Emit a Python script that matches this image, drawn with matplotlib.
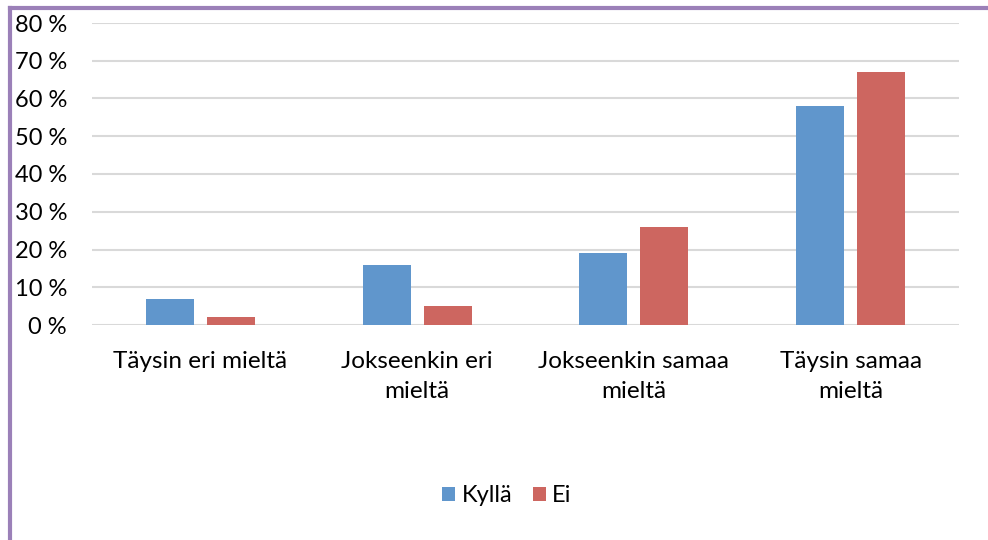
import numpy as np
import matplotlib.pyplot as plt
from matplotlib.lines import Line2D
from matplotlib.ticker import FuncFormatter

categories = ["Täysin eri mieltä", "Jokseenkin eri\nmieltä",
              "Jokseenkin samaa\nmieltä", "Täysin samaa\nmieltä"]
kylla = [7, 16, 19, 58]
ei = [2, 5, 26, 67]
series_names = ["Kyllä", "Ei"]

blue = "#6096CC"
red = "#CD6660"

plt.rcParams['font.family'] = ['Lato', 'DejaVu Sans']

fig = plt.figure(figsize=(9.88, 5.4), dpi=100)
ax = fig.add_axes([92 / 988, (540 - 325) / 540, (959 - 92) / 988, (325 - 23) / 540])

x = np.arange(len(categories))
w = 0.222
gap = 0.06
ax.bar(x - (w + gap) / 2, kylla, w, color=blue, label=series_names[0], zorder=3)
ax.bar(x + (w + gap) / 2, ei, w, color=red, label=series_names[1], zorder=3)

ax.set_xlim(-0.5, len(categories) - 0.5)
ax.set_ylim(0, 80)
ax.set_yticks(range(0, 81, 10))
ax.yaxis.set_major_formatter(FuncFormatter(lambda v, p: f"{int(v)} %"))
ax.grid(axis='y', color='#D9D9D9', linewidth=1.5, zorder=0)
for s in ax.spines.values():
    s.set_visible(False)
ax.tick_params(axis='y', length=0, pad=18, labelsize=17, labelcolor='black')
ax.tick_params(axis='x', length=0, pad=18.5, labelsize=17.5)
ax.set_xticks(x)
ax.set_xticklabels(categories, linespacing=1.55)

leg = fig.legend(loc='center', bbox_to_anchor=(507 / 988, 1 - 496 / 540), ncol=2,
                 frameon=False, fontsize=17, handlelength=0.55, handleheight=0.55,
                 handletextpad=0.25, columnspacing=0.9)

# purple frame on top and left
fig.add_artist(Line2D([10 / 988, 10 / 988], [0, 1 - 8 / 540], color='#9B80B8', linewidth=3,
                      transform=fig.transFigure))
fig.add_artist(Line2D([10 / 988, 1], [1 - 8 / 540, 1 - 8 / 540], color='#9B80B8', linewidth=3,
                      transform=fig.transFigure))

fig.savefig("out.png", dpi=100)
